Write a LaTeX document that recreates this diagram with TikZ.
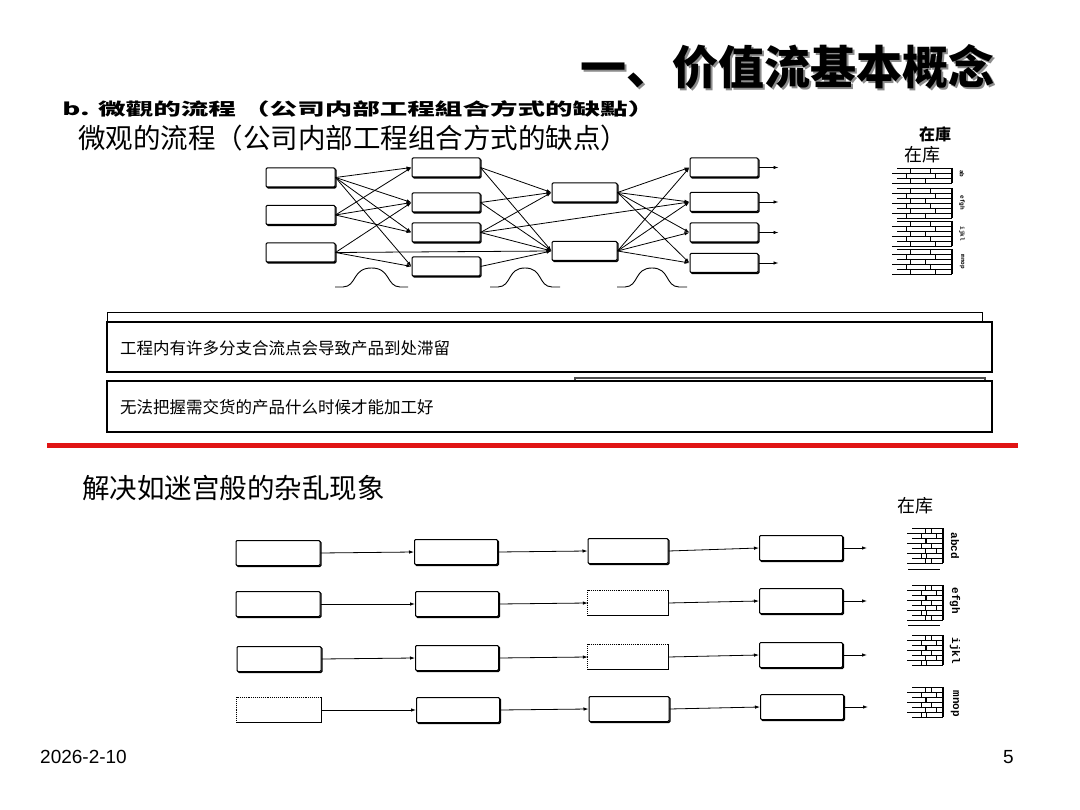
\documentclass[tikz,border=0pt]{standalone}
\usepackage{fontspec}
\setmainfont{Liberation Sans}
\setmonofont{Liberation Mono}
\newfontfamily\cjk{Noto Sans CJK SC}
\usetikzlibrary{arrows.meta}
\newcommand\invpile[4]{% x0, x1, ytop, n
  \foreach \i in {1,...,#4}{%
    \pgfmathsetmacro\yy{#3+(\i-1)*5}%
    \pgfmathsetmacro\xs{#1+mod(\i,2)*5}%
    \draw[line width=0.9pt] (\xs,\yy) -- (#2,\yy);
  }
  \pgfmathsetmacro\yb{#3+(#4-1)*5}
  \draw[line width=1.1pt] (#2,#3) -- (#2,\yb);
  \pgfmathtruncatemacro\nn{#4-1}
  \foreach \i in {1,...,\nn}{%
    \pgfmathsetmacro\ya{#3+(\i-1)*5}%
    \pgfmathsetmacro\yc{#3+\i*5}%
    \pgfmathsetmacro\xa{#1+14+mod(\i,2)*4}%
    \pgfmathsetmacro\xb{#1+(#2-#1)*0.55+mod(\i,3)*5}%
    \draw[line width=0.8pt] (\xa,\ya) -- (\xa,\yc);
    \draw[line width=0.8pt] (\xb,\ya) -- (\xb,\yc);
  }
}
\newcommand\bellcurve[2]{%
  \draw[line width=0.9pt] (#1,287) -- ({#1+8},287) .. controls ({#1+22},286.5) and ({#1+17},268) .. ({(#1+#2)/2},268) .. controls ({#2-17},268) and ({#2-22},286.5) .. ({#2-8},287) -- (#2,287);
}
\begin{document}
\begin{tikzpicture}[x=1pt,y=-1pt,
  pbox/.style={draw, line width=1pt, rounded corners=1.2pt, fill=white, inner sep=0pt,
    minimum height=19pt, minimum width=68pt,
    preaction={draw, line width=1.3pt, transform canvas={shift={(0.9pt,-0.9pt)}}}},
  qbox/.style={pbox, minimum width=83pt, minimum height=25pt},
  dbox/.style={inner sep=0pt, minimum width=83pt, minimum height=25pt},
  flow/.style={line width=0.8pt, -{Latex[length=5pt,width=3.5pt]}},
  cjktext/.style={inner sep=0pt, anchor=west},
  sheet/.style={draw, line width=1.2pt, fill=white}]
\path[fill=white, use as bounding box] (0,0) rectangle (1080,810);

% title with shadow
\node[cjktext, text=black!45] at (582,69) {\cjk\bfseries\fontsize{46}{50}\selectfont 一、价值流基本概念};
\node[cjktext] (title) at (580,67) {\cjk\bfseries\fontsize{46}{50}\selectfont 一、价值流基本概念};

% headers
\node[cjktext, xscale=1.62] (h1) at (62,109) {\cjk\bfseries\fontsize{17}{19}\selectfont b. 微觀的流程 （公司内部工程組合方式的缺點）};
\node[cjktext] (h2) at (78,138) {\cjk\fontsize{27.5}{29}\selectfont 微观的流程（公司内部工程组合方式的缺点）};

% top network
\node[pbox, minimum width=69pt] (L1) at (300.5,177.5) {};
\node[pbox, minimum width=69pt] (L2) at (300.5,215) {};
\node[pbox, minimum width=69pt] (L3) at (300.5,252.5) {};
\node[pbox] (B1) at (446,167.5) {};
\node[pbox] (B2) at (446,202.5) {};
\node[pbox] (B3) at (446,232.5) {};
\node[pbox] (B4) at (446,266.5) {};
\node[pbox, minimum width=65pt] (C1) at (584.5,192.5) {};
\node[pbox, minimum width=65pt] (C2) at (584.5,251) {};
\node[pbox] (D1) at (724,167.5) {};
\node[pbox] (D2) at (724,202) {};
\node[pbox] (D3) at (724,232.5) {};
\node[pbox] (D4) at (724,263) {};
\foreach \a/\b in {L1/B1,L1/B2,L1/B3,L1/B4,L2/B1,L2/B2,L2/B3,L3/B2,L3/C2,L3/B4,
  B1/C1,B1/C2,B2/C1,B2/C2,B3/C1,B3/D2,B3/C2,B4/C2,
  C1/D1,C1/D2,C1/D3,C1/D4,C2/D1,C2/D2,C2/D3,C2/D4}
  \draw[flow] (\a.east) -- (\b.west);
\foreach \d in {1,2,3,4}{
  \coordinate (o\d) at ([xshift=20pt]D\d.east);
  \draw[flow] (D\d.east) -- (o\d);
}
\bellcurve{335}{408}
\bellcurve{490}{560}
\bellcurve{617}{687}

% top inventory
\node[inner sep=0pt] (zk1) at (935,134) {\cjk\bfseries\fontsize{16}{18}\selectfont 在庫};
\node[inner sep=0pt] (zk2) at (922,155) {\cjk\fontsize{18}{20}\selectfont 在库};
\invpile{892}{952}{168}{4}
\invpile{892}{952}{188}{7}
\invpile{892}{952}{221}{6}
\invpile{892}{952}{249}{6}
\node[rotate=-90, inner sep=0pt] (t1) at (962,174) {\ttfamily\bfseries\fontsize{6}{7}\selectfont ab};
\node[rotate=-90, inner sep=0pt] (t2) at (962,203) {\ttfamily\bfseries\fontsize{6}{7}\selectfont efgh};
\node[rotate=-90, inner sep=0pt] (t3) at (962,234) {\ttfamily\bfseries\fontsize{6}{7}\selectfont ijkl};
\node[rotate=-90, inner sep=0pt] (t4) at (962,262) {\ttfamily\bfseries\fontsize{6}{7}\selectfont mnop};

% text sheets
\draw[line width=1pt, fill=white] (107,313) rectangle (982,360);
\node[sheet, minimum width=885pt, minimum height=50pt, inner sep=0pt] (s1) at (549.5,347) {};
\node[cjktext] (s1t) at (120,348) {\cjk\fontsize{16.5}{18}\selectfont 工程内有许多分支合流点会导致产品到处滞留};
\draw[line width=1.2pt, draw=black!70, fill=white] (575,378) rectangle (985,400);
\node[sheet, minimum width=885pt, minimum height=51pt, inner sep=0pt] (s2) at (549.5,406.5) {};
\node[cjktext] (s2t) at (120,407) {\cjk\fontsize{16.5}{18}\selectfont 无法把握需交货的产品什么时候才能加工好};

% red rule
\draw[line width=5pt, draw={rgb,255:red,224;green,20;blue,20}] (47,446) -- (1018,446);

\node[cjktext] (h3) at (82,488) {\cjk\fontsize{27.5}{29}\selectfont 解决如迷宫般的杂乱现象};

% bottom rows
\node[qbox, minimum width=84pt] (r1c1) at (278,553) {};
\node[qbox] (r1c2) at (456,552) {};
\node[qbox, minimum width=80pt] (r1c3) at (628,551) {};
\node[qbox] (r1c4) at (801,548) {};
\node[qbox, minimum width=84pt] (r2c1) at (278,604) {};
\node[qbox] (r2c2) at (457,604) {};
\node[dbox, minimum width=80pt] (r2c3) at (628,603) {};
\node[qbox] (r2c4) at (801,601) {};
\node[qbox, minimum width=84pt] (r3c1) at (279,659) {};
\node[qbox] (r3c2) at (457,658) {};
\node[dbox, minimum width=80pt] (r3c3) at (628,657) {};
\node[qbox] (r3c4) at (801,655) {};
\node[dbox, minimum width=84pt] (r4c1) at (279,710) {};
\node[qbox] (r4c2) at (458,710) {};
\node[qbox, minimum width=80pt] (r4c3) at (629,709) {};
\node[qbox] (r4c4) at (802,707) {};
\foreach \n in {r2c3,r3c3,r4c1}{
  \draw[line width=0.9pt, densely dotted] (\n.south west) -- (\n.north west) -- (\n.north east);
  \draw[line width=1.3pt] (\n.north east) -- (\n.south east) -- (\n.south west);
}
\foreach \r in {1,2,3,4}{
  \draw[flow] (r\r c1.east) -- (r\r c2.west);
  \draw[flow] (r\r c2.east) -- (r\r c3.west);
  \draw[flow] (r\r c3.east) -- (r\r c4.west);
  \coordinate (e\r) at ([xshift=24pt]r\r c4.east);
  \draw[flow] (r\r c4.east) -- (e\r);
}

% bottom inventory
\node[inner sep=0pt] (zk3) at (915,506) {\cjk\fontsize{18}{20}\selectfont 在库};
\invpile{907}{943}{528}{8}
\draw[line width=0.9pt] (908,569) -- (940,569);
\invpile{907}{943}{585}{8}
\draw[line width=0.9pt] (908,625) -- (940,625);
\invpile{907}{943}{635}{7}
\invpile{907}{943}{687}{7}
\node[rotate=-90, inner sep=0pt] (b1) at (955,546) {\ttfamily\bfseries\fontsize{11}{12}\selectfont abcd};
\node[rotate=-90, inner sep=0pt] (b2) at (955,601) {\ttfamily\bfseries\fontsize{11}{12}\selectfont efgh};
\node[rotate=-90, inner sep=0pt] (b3) at (955,651) {\ttfamily\bfseries\fontsize{11}{12}\selectfont ijkl};
\node[rotate=-90, inner sep=0pt] (b4) at (955,704) {\ttfamily\bfseries\fontsize{11}{12}\selectfont mnop};

% footer
\node[anchor=west, inner sep=0pt] (date) at (40,757) {\fontsize{19}{21}\selectfont 2026-2-10};
\node[anchor=east, inner sep=0pt] (pg) at (1014,757) {\fontsize{19}{21}\selectfont 5};
\end{tikzpicture}
\end{document}
